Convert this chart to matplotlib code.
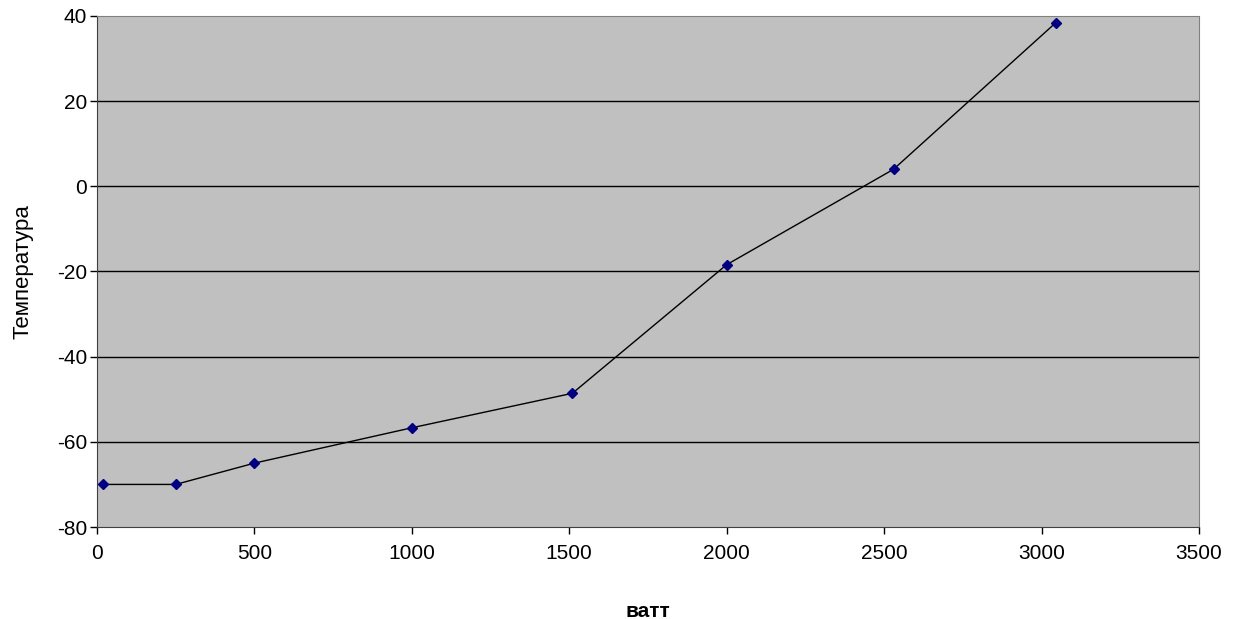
import matplotlib.pyplot as plt

watts = [20, 250, 500, 1000, 1510, 2000, 2530, 3045]
temps = [-70, -70, -65, -56.7, -48.6, -18.4, 4, 38.4]
x_ticks = [0, 500, 1000, 1500, 2000, 2500, 3000, 3500]
y_ticks = [-80, -60, -40, -20, 0, 20, 40]

plt.rcParams['font.family'] = ['Liberation Sans', 'DejaVu Sans']
plt.rcParams['axes.unicode_minus'] = False

fig = plt.figure(figsize=(12.48, 6.19), dpi=100)
ax = fig.add_axes([0.0777, 0.1486, 0.8830, 0.8256])
ax.set_facecolor('#C0C0C0')

for y in y_ticks[1:-1]:
    ax.axhline(y, color='black', linewidth=1, zorder=1)

ax.plot(watts, temps, color='black', linewidth=1, zorder=2)
ax.plot(watts, temps, linestyle='none', marker='D', markersize=5,
        markerfacecolor='#000080', markeredgecolor='#000080', zorder=3)

ax.set_xlim(0, 3500)
ax.set_ylim(-80, 40)
ax.set_xticks(x_ticks)
ax.set_yticks(y_ticks)
ax.tick_params(axis='both', direction='out', length=5, width=1,
               colors='black', labelsize=15)
ax.tick_params(axis='x', pad=7)
ax.tick_params(axis='y', pad=2)

for side in ['top', 'right']:
    ax.spines[side].set_color('#808080')
for side in ['left', 'bottom']:
    ax.spines[side].set_color('#404040')

ax.set_xlabel('ватт', fontsize=15, fontweight='bold', labelpad=28)
ax.set_ylabel('Температура', fontsize=16, labelpad=17)

fig.savefig('out.png', dpi=100)
